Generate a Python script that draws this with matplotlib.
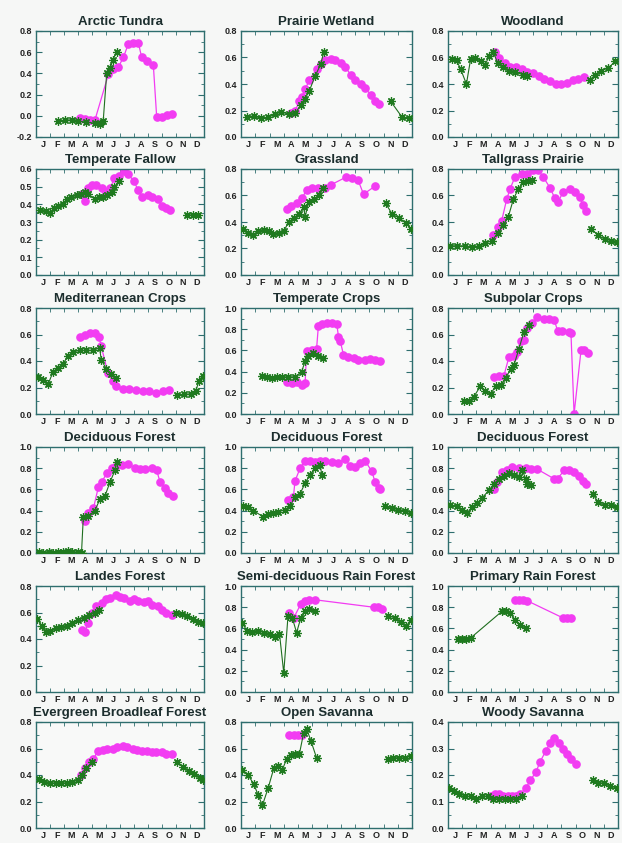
import numpy as np
import matplotlib
matplotlib.use('Agg')
import matplotlib.pyplot as plt

plt.rcParams['font.family'] = ['Liberation Sans', 'DejaVu Sans']

months = ['J', 'F', 'M', 'A', 'M', 'J', 'J', 'A', 'S', 'O', 'N', 'D']
N = None  # gap in a series

# ---- data (x in months from 1 Jan, y = index value) ----
tundra_gx = [1.6, 2.07, 2.55, 3.0, 3.6, 4.2, 4.57, 4.8, 5.05, 5.3, 5.5, 5.75]
tundra_gy = [-0.05, -0.04, -0.04, -0.05, -0.06, -0.07, -0.08, -0.05, 0.40, 0.45, 0.53, 0.60]
tundra_mx = [3.14, 3.5, 3.86, 4.21, 5.17, 5.52, 5.88, 6.24, 6.6, 6.95, 7.31, 7.55, 7.9, 8.38, 8.62, 8.98, 9.33, 9.69]
tundra_my = [-0.02, -0.03, -0.04, -0.04, 0.39, 0.44, 0.46, 0.55, 0.68, 0.69, 0.69, 0.55, 0.52, 0.48, -0.01, -0.01, 0.01, 0.02]

wetland_gx = [0.4, 0.9, 1.4, 1.9, 2.4, 2.8, 3.4, 3.8, 4.2, 4.5, 4.8, 5.2, 5.6, 5.8, N, 10.5, 11.3, 11.8]
wetland_gy = [0.15, 0.16, 0.14, 0.15, 0.17, 0.19, 0.17, 0.18, 0.24, 0.29, 0.35, 0.46, 0.55, 0.64, N, 0.27, 0.15, 0.14]
wetland_mx = [3.5, 3.8, 4.1, 4.3, 4.5, 4.8, 5.3, 5.6, 5.9, 6.3, 6.6, 7.0, 7.3, 7.7, 8.0, 8.4, 8.7, 9.1, 9.4, 9.7]
wetland_my = [0.18, 0.2, 0.27, 0.3, 0.36, 0.43, 0.51, 0.55, 0.58, 0.59, 0.58, 0.56, 0.53, 0.47, 0.43, 0.40, 0.37, 0.32, 0.27, 0.25]

wood_gx = [0.3, 0.6, 0.9, 1.3, 1.6, 1.9, 2.3, 2.6, 2.9, 3.2, 3.5, 3.9, 4.3, 4.7, 5.3, 5.6, N, 10.0, 10.4, 10.8, 11.3, 11.8]
wood_gy = [0.59, 0.58, 0.51, 0.40, 0.59, 0.60, 0.57, 0.54, 0.61, 0.64, 0.56, 0.53, 0.50, 0.49, 0.47, 0.46, N, 0.43, 0.47, 0.50, 0.52, 0.57]
wood_mx = [3.3, 3.6, 4.0, 4.4, 4.8, 5.2, 5.6, 6.0, 6.4, 6.8, 7.2, 7.6, 8.0, 8.4, 8.8, 9.2, 9.6]
wood_my = [0.64, 0.60, 0.56, 0.53, 0.53, 0.51, 0.49, 0.48, 0.46, 0.44, 0.42, 0.40, 0.40, 0.41, 0.43, 0.44, 0.45]

fallow_gx = [0.3, 0.7, 1.0, 1.3, 1.6, 1.9, 2.2, 2.5, 2.9, 3.2, 3.5, 3.7, 4.2, 4.5, 4.8, 5.1, 5.4, 5.6, 5.9, N, 10.8, 11.2, 11.6]
fallow_gy = [0.37, 0.36, 0.35, 0.38, 0.39, 0.40, 0.43, 0.44, 0.45, 0.46, 0.47, 0.46, 0.43, 0.44, 0.44, 0.45, 0.47, 0.50, 0.53, N, 0.34, 0.34, 0.34]
fallow_mx = [3.3, 3.5, 3.7, 4.0, 4.3, 4.7, 5.0, 5.3, 5.6, 5.9, 6.3, 6.6, 7.0, 7.3, 7.6, 8.0, 8.3, 8.7, 9.0, 9.3, 9.6]
fallow_my = [0.46, 0.42, 0.49, 0.51, 0.51, 0.49, 0.47, 0.49, 0.55, 0.56, 0.59, 0.57, 0.53, 0.48, 0.44, 0.45, 0.44, 0.43, 0.39, 0.38, 0.37]

grass_gx = [0.16, 0.52, 0.87, 1.22, 1.58, 1.93, 2.28, 2.64, 3.0, 3.34, 3.7, 4.05, 4.4, 4.5, 4.75, 5.1, 5.46, 5.75, N, 10.16, 10.6, 11.1, 11.6, 11.9]
grass_gy = [0.35, 0.32, 0.30, 0.33, 0.34, 0.33, 0.31, 0.32, 0.33, 0.40, 0.43, 0.46, 0.51, 0.44, 0.55, 0.57, 0.60, 0.66, N, 0.54, 0.46, 0.43, 0.39, 0.35]
grass_mx = [3.2, 3.5, 3.9, 4.3, 4.6, 5.0, 5.4, 5.9, 6.3, 7.4, 7.8, 8.2, 8.6, 9.4]
grass_my = [0.50, 0.52, 0.54, 0.58, 0.645, 0.66, 0.66, 0.66, 0.68, 0.74, 0.73, 0.72, 0.61, 0.67]

tall_gx = [0.16, 0.63, 1.22, 1.69, 2.16, 2.62, 3.09, 3.56, 3.91, 4.26, 4.61, 4.96, 5.32, 5.67, 5.9, N, 10.1, 10.6, 11.05, 11.5, 11.9]
tall_gy = [0.22, 0.22, 0.22, 0.21, 0.22, 0.24, 0.26, 0.32, 0.38, 0.44, 0.57, 0.65, 0.70, 0.71, 0.72, N, 0.35, 0.30, 0.27, 0.26, 0.25]
tall_mx = [3.2, 3.56, 3.79, 4.14, 4.38, 4.73, 5.2, 5.55, 6.02, 6.37, 6.72, 7.19, 7.54, 7.78, 8.13, 8.6, 8.95, 9.3, 9.53, 9.77]
tall_my = [0.30, 0.36, 0.41, 0.57, 0.65, 0.74, 0.76, 0.76, 0.79, 0.79, 0.74, 0.66, 0.58, 0.55, 0.63, 0.65, 0.63, 0.59, 0.53, 0.48]

medcrop_gx = [0.17, 0.52, 0.88, 1.23, 1.59, 1.94, 2.3, 2.65, 3.12, 3.6, 4.07, 4.54, 4.66, 5.02, 5.38, 5.73, N, 10.1, 10.6, 11.05, 11.4, 11.64, 11.9]
medcrop_gy = [0.28, 0.26, 0.23, 0.32, 0.35, 0.38, 0.44, 0.47, 0.48, 0.48, 0.48, 0.50, 0.41, 0.34, 0.30, 0.27, N, 0.14, 0.15, 0.15, 0.17, 0.25, 0.29]
medcrop_mx = [3.12, 3.48, 3.83, 4.19, 4.5, 4.66, 5.14, 5.5, 5.73, 6.2, 6.67, 7.15, 7.62, 8.09, 8.57, 9.04, 9.51]
medcrop_my = [0.58, 0.60, 0.61, 0.61, 0.58, 0.51, 0.31, 0.25, 0.21, 0.19, 0.19, 0.18, 0.17, 0.17, 0.16, 0.17, 0.18]

tempcrop_gx = [1.45, 1.8, 2.15, 2.5, 2.86, 3.33, 3.79, 4.26, 4.5, 4.73, 5.08, 5.43, 5.78]
tempcrop_gy = [0.36, 0.35, 0.34, 0.35, 0.35, 0.35, 0.35, 0.40, 0.50, 0.55, 0.58, 0.55, 0.53]
tempcrop_mx = [3.2, 3.56, 3.9, 4.26, 4.5, 4.6, 4.95, 5.3, 5.43, 5.67, 6.02, 6.37, 6.72, 6.84, 6.96, 7.19, 7.54, 7.9, 8.24, 8.7, 9.06, 9.4, 9.77]
tempcrop_my = [0.30, 0.29, 0.30, 0.27, 0.29, 0.59, 0.60, 0.61, 0.83, 0.85, 0.86, 0.86, 0.85, 0.73, 0.69, 0.56, 0.54, 0.53, 0.51, 0.51, 0.52, 0.51, 0.50]

subpolar_gx = [1.1, 1.46, 1.82, 2.29, 2.64, 3.0, 3.36, 3.71, 4.07, 4.42, 4.66, 5.0, 5.36, 5.72]
subpolar_gy = [0.10, 0.10, 0.13, 0.21, 0.17, 0.15, 0.21, 0.22, 0.27, 0.34, 0.37, 0.49, 0.62, 0.67]
subpolar_mx = [3.24, 3.6, 3.95, 4.3, 4.66, 4.9, 5.13, 5.37, 5.6, 5.96, 6.3, 6.78, 7.14, 7.5, 7.73, 8.08, 8.56, 8.68, 8.9, 9.39, 9.62, 9.86]
subpolar_my = [0.28, 0.29, 0.29, 0.43, 0.44, 0.47, 0.55, 0.56, 0.65, 0.69, 0.73, 0.72, 0.72, 0.71, 0.63, 0.63, 0.62, 0.61, 0.0, 0.48, 0.48, 0.46]

decid1_gx = [0.2, 0.5, 0.9, 1.2, 1.6, 1.9, 2.3, 2.6, 3.0, 3.25, 3.38, 3.74, 4.21, 4.57, 4.93, 5.29, 5.64, 5.76]
decid1_gy = [0.01, 0.0, 0.01, 0.0, 0.01, 0.01, 0.02, 0.01, 0.01, 0.0, 0.34, 0.35, 0.40, 0.51, 0.54, 0.67, 0.78, 0.86]
decid1_mx = [3.5, 3.74, 4.1, 4.45, 4.69, 5.05, 5.4, 5.64, 6.12, 6.6, 7.07, 7.43, 7.79, 8.26, 8.62, 8.86, 9.21, 9.45, 9.8]
decid1_my = [0.30, 0.38, 0.42, 0.62, 0.67, 0.75, 0.80, 0.81, 0.83, 0.84, 0.80, 0.79, 0.79, 0.80, 0.78, 0.67, 0.61, 0.57, 0.54]

decid2_gx = [0.16, 0.52, 0.87, 1.57, 1.92, 2.27, 2.62, 3.09, 3.44, 3.79, 4.15, 4.5, 4.85, 5.2, 5.55, 5.67, N, 10.1, 10.6, 11.05, 11.5, 11.9]
decid2_gy = [0.44, 0.43, 0.40, 0.34, 0.37, 0.38, 0.39, 0.41, 0.44, 0.53, 0.56, 0.66, 0.74, 0.80, 0.83, 0.74, N, 0.44, 0.42, 0.41, 0.40, 0.38]
decid2_mx = [3.33, 3.68, 3.79, 4.15, 4.5, 4.85, 5.2, 5.55, 5.9, 6.37, 6.84, 7.3, 7.66, 8.0, 8.36, 8.71, 9.18, 9.41, 9.65, 9.77]
decid2_my = [0.50, 0.53, 0.68, 0.80, 0.87, 0.87, 0.86, 0.87, 0.87, 0.86, 0.85, 0.89, 0.82, 0.81, 0.85, 0.87, 0.77, 0.67, 0.61, 0.60]

decid3_gx = [0.17, 0.64, 1.0, 1.35, 1.7, 2.06, 2.41, 2.88, 3.24, 3.59, 3.95, 4.3, 4.66, 5.0, 5.25, 5.48, 5.6, 5.84, N, 10.2, 10.6, 11.05, 11.5, 11.95]
decid3_gy = [0.45, 0.44, 0.41, 0.38, 0.43, 0.47, 0.52, 0.59, 0.65, 0.70, 0.73, 0.75, 0.74, 0.72, 0.78, 0.70, 0.65, 0.64, N, 0.56, 0.48, 0.45, 0.45, 0.43]
decid3_mx = [3.24, 3.47, 3.83, 4.18, 4.54, 5.0, 5.48, 5.84, 6.31, 7.49, 7.73, 8.2, 8.56, 8.91, 9.27, 9.5, 9.74]
decid3_my = [0.60, 0.67, 0.76, 0.78, 0.81, 0.80, 0.80, 0.79, 0.79, 0.70, 0.70, 0.78, 0.78, 0.76, 0.73, 0.68, 0.65]

landes_gx = [0.1, 0.4, 0.7, 1.0, 1.4, 1.8, 2.2, 2.6, 3.0, 3.4, 3.8, 4.2, 4.5, N, 10.0, 10.4, 10.8, 11.2, 11.6, 11.9]
landes_gy = [0.55, 0.50, 0.45, 0.46, 0.48, 0.49, 0.50, 0.52, 0.54, 0.56, 0.58, 0.60, 0.62, N, 0.60, 0.59, 0.57, 0.55, 0.53, 0.52]
landes_mx = [3.3, 3.5, 3.7, 4.0, 4.3, 4.7, 5.0, 5.3, 5.7, 6.0, 6.3, 6.7, 7.0, 7.3, 7.7, 8.0, 8.3, 8.7, 9.0, 9.3, 9.7]
landes_my = [0.47, 0.45, 0.52, 0.60, 0.65, 0.67, 0.70, 0.71, 0.73, 0.72, 0.71, 0.69, 0.70, 0.69, 0.68, 0.69, 0.66, 0.65, 0.62, 0.60, 0.58]

semi_gx = [0.1, 0.4, 0.8, 1.2, 1.6, 2.0, 2.4, 2.7, 3.0, 3.3, 3.6, 3.9, 4.2, 4.5, 4.8, 5.2, N, 10.3, 10.8, 11.2, 11.6, 11.9]
semi_gy = [0.65, 0.58, 0.57, 0.58, 0.56, 0.55, 0.52, 0.55, 0.18, 0.72, 0.70, 0.56, 0.70, 0.76, 0.78, 0.76, N, 0.72, 0.70, 0.66, 0.62, 0.68]
semi_mx = [3.4, 3.7, 4.2, 4.5, 4.8, 5.2, 9.3, 9.6, 9.9]
semi_my = [0.75, 0.70, 0.83, 0.86, 0.87, 0.87, 0.80, 0.80, 0.78]

primary_gx = [0.7, 1.0, 1.3, 1.6, 3.8, 4.1, 4.4, 4.7, 5.1, 5.5]
primary_gy = [0.50, 0.50, 0.50, 0.51, 0.76, 0.76, 0.75, 0.68, 0.63, 0.60]
primary_mx = [4.7, 5.0, 5.3, 5.6, 8.1, 8.4, 8.7]
primary_my = [0.87, 0.87, 0.87, 0.86, 0.70, 0.70, 0.70]

evergreen_gx = [0.2, 0.6, 1.0, 1.4, 1.8, 2.2, 2.6, 3.0, 3.3, 3.6, 4.0, N, 10.1, 10.5, 10.9, 11.3, 11.7, 11.95]
evergreen_gy = [0.37, 0.35, 0.34, 0.34, 0.34, 0.34, 0.35, 0.36, 0.40, 0.45, 0.50, N, 0.50, 0.46, 0.43, 0.41, 0.38, 0.36]
evergreen_mx = [3.2, 3.5, 3.8, 4.1, 4.4, 4.8, 5.1, 5.5, 5.8, 6.2, 6.5, 6.9, 7.2, 7.6, 7.9, 8.3, 8.6, 9.0, 9.3, 9.7]
evergreen_my = [0.40, 0.45, 0.50, 0.52, 0.58, 0.59, 0.60, 0.60, 0.61, 0.62, 0.61, 0.60, 0.59, 0.58, 0.58, 0.57, 0.57, 0.57, 0.56, 0.56]

opensav_gx = [0.1, 0.5, 0.9, 1.2, 1.5, 1.9, 2.3, 2.6, 2.9, 3.2, 3.5, 3.8, 4.1, 4.4, 4.6, 4.9, 5.3, N, 10.3, 10.7, 11.1, 11.5, 11.9]
opensav_gy = [0.44, 0.40, 0.33, 0.25, 0.17, 0.30, 0.45, 0.47, 0.44, 0.52, 0.55, 0.56, 0.56, 0.72, 0.75, 0.66, 0.53, N, 0.52, 0.53, 0.53, 0.53, 0.54]
opensav_mx = [3.4, 3.7, 4.0, 4.3]
opensav_my = [0.70, 0.70, 0.70, 0.70]

woody_gx = [0.1, 0.4, 0.8, 1.2, 1.6, 2.0, 2.4, 2.8, 3.2, 3.6, 4.0, 4.4, 4.8, 5.2, N, 10.2, 10.6, 11.0, 11.4, 11.9]
woody_gy = [0.15, 0.14, 0.13, 0.12, 0.12, 0.11, 0.12, 0.12, 0.11, 0.11, 0.11, 0.11, 0.11, 0.12, N, 0.18, 0.17, 0.17, 0.16, 0.15]
woody_mx = [3.0, 3.3, 3.6, 3.9, 4.2, 4.5, 4.8, 5.1, 5.5, 5.8, 6.2, 6.5, 6.9, 7.2, 7.5, 7.8, 8.1, 8.4, 8.7, 9.0]
woody_my = [0.12, 0.13, 0.13, 0.12, 0.12, 0.12, 0.12, 0.13, 0.15, 0.18, 0.21, 0.25, 0.29, 0.32, 0.34, 0.32, 0.30, 0.28, 0.26, 0.24]

titles = ['Arctic Tundra', 'Prairie Wetland', 'Woodland',
          'Temperate Fallow', 'Grassland', 'Tallgrass Prairie',
          'Mediterranean Crops', 'Temperate Crops', 'Subpolar Crops',
          'Deciduous Forest', 'Deciduous Forest', 'Deciduous Forest',
          'Landes Forest', 'Semi-deciduous Rain Forest', 'Primary Rain Forest',
          'Evergreen Broadleaf Forest', 'Open Savanna', 'Woody Savanna']
ylims = [(-0.2, 0.8), (0, 0.8), (0, 0.8),
         (0, 0.6), (0, 0.8), (0, 0.8),
         (0, 0.8), (0, 1.0), (0, 0.8),
         (0, 1.0), (0, 1.0), (0, 1.0),
         (0, 0.8), (0, 1.0), (0, 1.0),
         (0, 0.8), (0, 0.8), (0, 0.4)]
green = [(tundra_gx, tundra_gy), (wetland_gx, wetland_gy), (wood_gx, wood_gy),
         (fallow_gx, fallow_gy), (grass_gx, grass_gy), (tall_gx, tall_gy),
         (medcrop_gx, medcrop_gy), (tempcrop_gx, tempcrop_gy), (subpolar_gx, subpolar_gy),
         (decid1_gx, decid1_gy), (decid2_gx, decid2_gy), (decid3_gx, decid3_gy),
         (landes_gx, landes_gy), (semi_gx, semi_gy), (primary_gx, primary_gy),
         (evergreen_gx, evergreen_gy), (opensav_gx, opensav_gy), (woody_gx, woody_gy)]
magenta = [(tundra_mx, tundra_my), (wetland_mx, wetland_my), (wood_mx, wood_my),
           (fallow_mx, fallow_my), (grass_mx, grass_my), (tall_mx, tall_my),
           (medcrop_mx, medcrop_my), (tempcrop_mx, tempcrop_my), (subpolar_mx, subpolar_my),
           (decid1_mx, decid1_my), (decid2_mx, decid2_my), (decid3_mx, decid3_my),
           (landes_mx, landes_my), (semi_mx, semi_my), (primary_mx, primary_my),
           (evergreen_mx, evergreen_my), (opensav_mx, opensav_my), (woody_mx, woody_my)]


def arr(v):
    return np.array([np.nan if a is None else a for a in v], dtype=float)


W, H = 622, 843
fig = plt.figure(figsize=(W / 100, H / 100), dpi=100, facecolor='#f6f7f6')

col_left = [36, 241, 448]
col_w = [168, 171, 170]
row_top = [31, 169, 308, 447, 586, 722]
ax_h = 106
frame = '#2e6e6e'

for i in range(18):
    r, c = divmod(i, 3)
    ax = fig.add_axes([col_left[c] / W, 1 - (row_top[r] + ax_h) / H, col_w[c] / W, ax_h / H])
    ax.set_facecolor('#f8f9f8')

    gx, gy = green[i]
    mx, my = magenta[i]
    ax.plot(arr(mx), arr(my), color='#f23cf2', lw=0.9, marker='o', ms=5.2,
            mec='#f23cf2', mfc='#f23cf2', zorder=2)
    ax.plot(arr(gx), arr(gy), color='#1f6e1f', lw=0.8, marker=(8, 2, 0), ms=6,
            mec='#1f7a1f', mew=0.9, zorder=3)

    lo, hi = ylims[i]
    step = 0.1 if hi - lo <= 0.6 else 0.2
    ax.set_ylim(lo, hi)
    ax.set_yticks(np.arange(lo, hi + 1e-6, step))
    ax.set_yticks(np.arange(lo, hi + 1e-6, step / 2), minor=True)
    ax.yaxis.set_major_formatter(plt.FormatStrFormatter('%.1f'))

    ax.set_xlim(0, 12)
    ax.set_xticks(np.arange(12) + 0.5)
    ax.set_xticklabels(months)
    ax.set_xticks(np.arange(1, 12), minor=True)

    ax.tick_params(axis='x', which='major', length=0, pad=2, labelsize=6.5, colors='#222222')
    ax.tick_params(axis='x', which='minor', direction='in', length=3, top=True, bottom=True, color=frame)
    ax.tick_params(axis='y', which='major', direction='in', length=4, left=True, right=True,
                   labelsize=6.5, colors='#222222', pad=3)
    ax.tick_params(axis='y', which='minor', direction='in', length=2, left=True, right=True, color=frame)
    ax.tick_params(axis='y', which='major', color=frame)
    for lab in ax.get_xticklabels() + ax.get_yticklabels():
        lab.set_fontweight('bold')
    for s in ax.spines.values():
        s.set_color(frame)
        s.set_linewidth(1.0)

    ax.set_title(titles[i], fontsize=9.5, fontweight='bold', color='#1c2e2e', pad=4)

fig.savefig('out.png', dpi=100, facecolor=fig.get_facecolor())
